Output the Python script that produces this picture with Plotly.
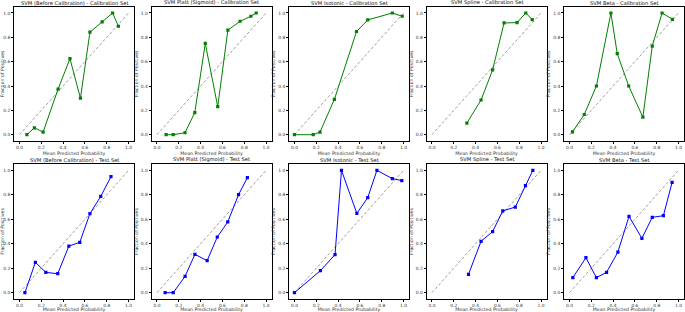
import plotly.graph_objects as go

W, H = 685, 312

titles_cal = ["SVM (Before Calibration) - Calibration Set", "SVM Platt (Sigmoid) - Calibration Set",
              "SVM Isotonic - Calibration Set", "SVM Spline - Calibration Set", "SVM Beta - Calibration Set"]
titles_test = ["SVM (Before Calibration) - Test Set", "SVM Platt (Sigmoid) - Test Set",
               "SVM Isotonic - Test Set", "SVM Spline - Test Set", "SVM Beta - Test Set"]

# Calibration set curves
cal_before_x = [0.068, 0.137, 0.217, 0.354, 0.463, 0.559, 0.646, 0.758, 0.854, 0.907]
cal_before_y = [0.0, 0.057, 0.022, 0.375, 0.625, 0.30, 0.842, 0.927, 1.0, 0.891]
cal_platt_x = [0.084, 0.149, 0.257, 0.347, 0.443, 0.557, 0.650, 0.762, 0.861, 0.910]
cal_platt_y = [0.0, 0.0, 0.016, 0.182, 0.75, 0.23, 0.859, 0.932, 0.973, 1.0]
cal_iso_x = [0.0, 0.172, 0.234, 0.366, 0.569, 0.672, 0.897, 0.988]
cal_iso_y = [0.0, 0.0, 0.022, 0.29, 0.848, 0.943, 1.0, 0.973]
cal_spline_x = [0.320, 0.450, 0.556, 0.661, 0.780, 0.860, 0.919]
cal_spline_y = [0.095, 0.285, 0.533, 0.918, 0.921, 1.0, 0.946]
cal_beta_x = [0.028, 0.136, 0.247, 0.380, 0.438, 0.543, 0.673, 0.759, 0.849, 0.944]
cal_beta_y = [0.024, 0.166, 0.40, 1.0, 0.666, 0.40, 0.144, 0.728, 1.0, 0.948]

# Test set curves
test_before_x = [0.050, 0.146, 0.242, 0.351, 0.453, 0.553, 0.646, 0.745, 0.839]
test_before_y = [0.0, 0.248, 0.166, 0.155, 0.381, 0.411, 0.646, 0.787, 0.948]
test_platt_x = [0.075, 0.149, 0.258, 0.348, 0.460, 0.553, 0.649, 0.748, 0.829]
test_platt_y = [0.0, 0.0, 0.134, 0.313, 0.262, 0.455, 0.578, 0.801, 0.940]
test_iso_x = [0.0, 0.238, 0.372, 0.431, 0.572, 0.672, 0.756, 0.897, 0.984]
test_iso_y = [0.0, 0.18, 0.311, 1.0, 0.648, 0.777, 1.0, 0.932, 0.916]
test_spline_x = [0.335, 0.450, 0.556, 0.649, 0.764, 0.857, 0.925]
test_spline_y = [0.150, 0.420, 0.499, 0.668, 0.700, 0.875, 1.0]
test_beta_x = [0.031, 0.151, 0.247, 0.340, 0.444, 0.546, 0.664, 0.759, 0.861, 0.941]
test_beta_y = [0.123, 0.286, 0.123, 0.166, 0.332, 0.624, 0.444, 0.616, 0.629, 0.902]

cal_series = [(cal_before_x, cal_before_y), (cal_platt_x, cal_platt_y), (cal_iso_x, cal_iso_y),
              (cal_spline_x, cal_spline_y), (cal_beta_x, cal_beta_y)]
test_series = [(test_before_x, test_before_y), (test_platt_x, test_platt_y), (test_iso_x, test_iso_y),
               (test_spline_x, test_spline_y), (test_beta_x, test_beta_y)]

diag = [0, 1]
tickvals = [0.0, 0.2, 0.4, 0.6, 0.8, 1.0]
ticktext = ["0.0", "0.2", "0.4", "0.6", "0.8", "1.0"]

FONT = "DejaVu Sans"
TXT = "#333333"
fig = go.Figure()
layout = dict(width=W, height=H, margin=dict(l=0, r=0, t=0, b=0, autoexpand=False),
              paper_bgcolor="white", plot_bgcolor="white", showlegend=False,
              font=dict(family=FONT, color=TXT))
annotations = []

rows = [(cal_series, titles_cal, "green", (140.8, 6.9)), (test_series, titles_test, "blue", (298.8, 164.2))]
idx = 0
for r, (series, titles, color, (ybot, ytop)) in enumerate(rows):
    for c in range(5):
        idx += 1
        xa = "x" if idx == 1 else f"x{idx}"
        ya = "y" if idx == 1 else f"y{idx}"
        xl = 14 + 137.5 * c
        xr = 134 + 137.5 * c
        xd = [xl / W, min(xr / W, 1.0)]
        yd = [1 - ybot / H, 1 - ytop / H]
        fig.add_trace(go.Scatter(x=diag, y=diag, mode="lines", xaxis=xa, yaxis=ya,
                                 line=dict(color="#777", width=0.7, dash="3px,2px")))
        sx, sy = series[c]
        fig.add_trace(go.Scatter(x=sx, y=sy, mode="lines+markers", xaxis=xa, yaxis=ya,
                                 line=dict(color=color, width=1.0),
                                 marker=dict(symbol="square", size=3.2, color=color)))
        axcommon = dict(range=[-0.05, 1.05], tickvals=tickvals, ticktext=ticktext,
                        showgrid=False, zeroline=False, showline=True, mirror=True,
                        linecolor="black", linewidth=0.6, ticks="outside", ticklen=2,
                        tickwidth=0.5, tickcolor="black", automargin=False,
                        tickfont=dict(size=4.4, family=FONT, color=TXT))
        key_x = "xaxis" if idx == 1 else f"xaxis{idx}"
        key_y = "yaxis" if idx == 1 else f"yaxis{idx}"
        layout[key_x] = dict(axcommon, domain=xd, anchor=ya,
                             title=dict(text="Mean Predicted Probability", font=dict(size=4.7, family=FONT, color=TXT), standoff=2))
        layout[key_y] = dict(axcommon, domain=yd, anchor=xa,
                             title=dict(text="Fraction of Positives", font=dict(size=4.7, family=FONT, color=TXT), standoff=2))
        annotations.append(dict(text=titles[c], x=(xd[0] + xd[1]) / 2, y=yd[1], xref="paper", yref="paper",
                                xanchor="center", yanchor="bottom", yshift=-1, showarrow=False,
                                font=dict(size=5.2, family=FONT, color="#111")))

layout["annotations"] = annotations
fig.update_layout(**layout)
fig.write_html("out.html", config={"displayModeBar": False},
               post_script="document.body.style.margin='0';document.body.style.padding='0';")
